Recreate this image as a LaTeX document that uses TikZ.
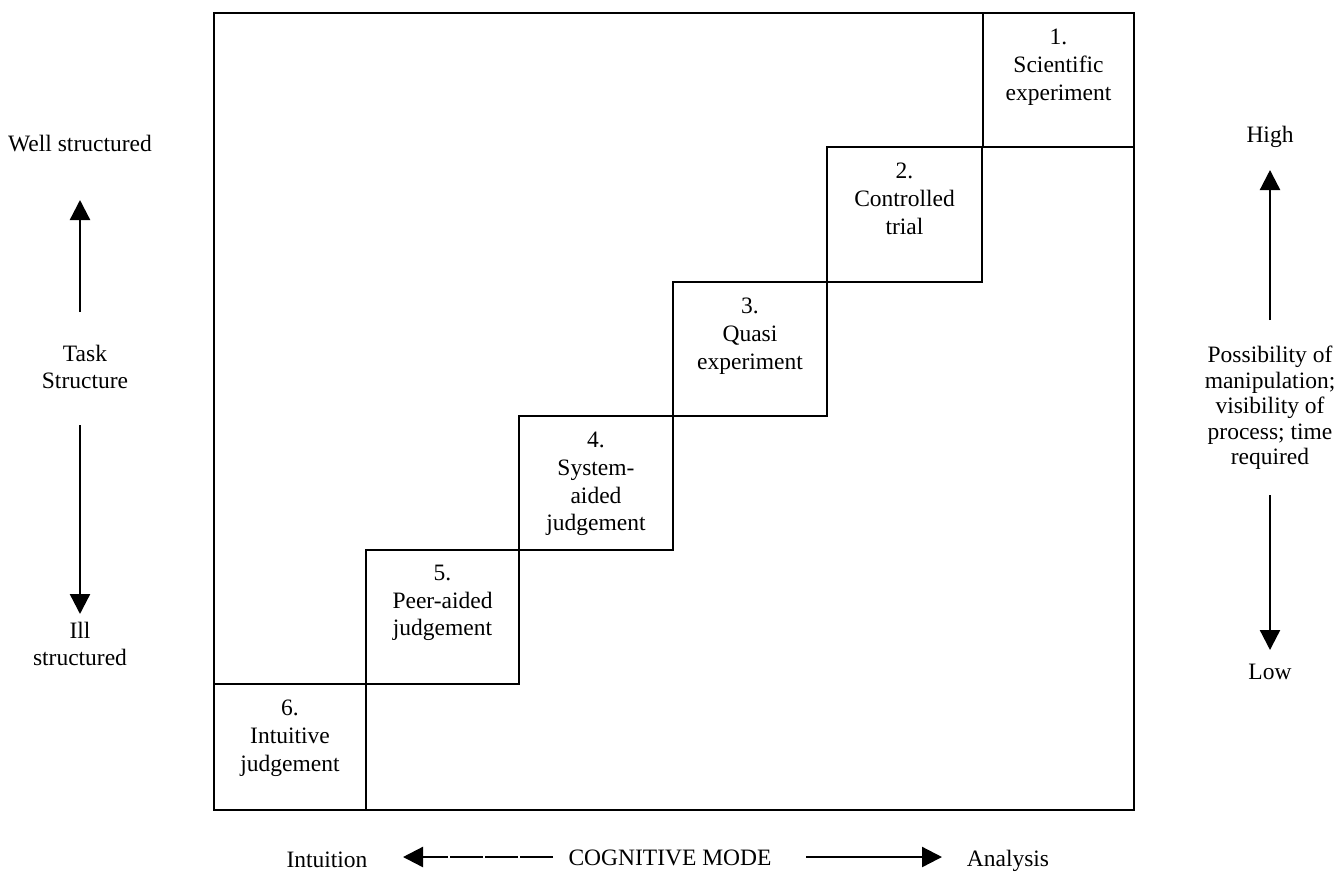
\documentclass[tikz,border=0pt]{standalone}
\usepackage{fontspec}
\setmainfont{Liberation Serif}
\usetikzlibrary{arrows.meta}
\begin{document}
\begin{tikzpicture}[x=1pt,y=-1pt,
  frame/.style={line width=2.8pt},
  stepbox/.style={draw,line width=2.8pt,inner sep=0pt,outer sep=0pt},
  boxtext/.style={anchor=north,align=center,inner sep=0pt,font=\fontsize{23.5}{27.7}\selectfont},
  lab/.style={align=center,inner sep=0pt,font=\fontsize{23.5}{27}\selectfont},
  axis/.style={line width=2.3pt,-{Triangle[length=20pt,width=20pt]}}
]
\useasboundingbox (0,0) rectangle (1340,873);
% outer frame
\draw[frame] (214,13) rectangle (1134,810);
% staircase boxes
\node[stepbox,minimum width=151pt,minimum height=134pt] (b1) at (1058.5,80) {};
\node[stepbox,minimum width=155pt,minimum height=135pt] (b2) at (904.5,214.5) {};
\node[stepbox,minimum width=154pt,minimum height=134pt] (b3) at (750,349) {};
\node[stepbox,minimum width=154pt,minimum height=134pt] (b4) at (596,483) {};
\node[stepbox,minimum width=153pt,minimum height=134pt] (b5) at (442.5,617) {};
\node[stepbox,minimum width=152pt,minimum height=126pt] (b6) at (290,747) {};
\node[boxtext] (t1) at ([yshift=-16pt]b1.north) {1.\\Scientific\\experiment};
\node[boxtext] (t2) at ([yshift=-16pt]b2.north) {2.\\Controlled\\trial};
\node[boxtext] (t3) at ([yshift=-16pt]b3.north) {3.\\Quasi\\experiment};
\node[boxtext] (t4) at ([yshift=-16pt]b4.north) {4.\\System-\\aided\\judgement};
\node[boxtext] (t5) at ([yshift=-15pt]b5.north) {5.\\Peer-aided\\judgement};
\node[boxtext] (t6) at ([yshift=-16pt]b6.north) {6.\\Intuitive\\judgement};
% left axis
\node[lab] (well) at (80,144) {Well structured};
\node[lab] (task) at (85,367) {Task\\Structure};
\node[lab] (ill) at (80,644) {Ill\\structured};
\coordinate (la1) at (80,312);
\coordinate (la2) at (80,200);
\coordinate (lb1) at (80,425);
\coordinate (lb2) at (80,614);
\draw[axis] (la1) -- (la2);
\draw[axis] (lb1) -- (lb2);
% right axis
\node[lab] (high) at (1270,137) {High};
\node[lab,font=\fontsize{23.5}{25.5}\selectfont] (poss) at (1270,408) {Possibility of\\manipulation;\\visibility of\\process; time\\required};
\node[lab] (low) at (1270,672) {Low};
\coordinate (ra1) at (1270,320);
\coordinate (ra2) at (1270,170);
\coordinate (rb1) at (1270,495);
\coordinate (rb2) at (1270,650);
\draw[axis] (ra1) -- (ra2);
\draw[axis] (rb1) -- (rb2);
% bottom axis
\node[lab] (intu) at (327,860) {Intuition};
\node[lab] (cog) at (670,858) {COGNITIVE MODE};
\node[lab] (ana) at (1008,861) {Analysis};
\coordinate (ba1) at (553,857);
\coordinate (ba2) at (403,857);
\coordinate (bb1) at (806,857);
\coordinate (bb2) at (942,857);
\draw[axis,dash pattern=on 33pt off 2pt] (ba1) -- (ba2);
\draw[axis] (bb1) -- (bb2);
\end{tikzpicture}
\end{document}
